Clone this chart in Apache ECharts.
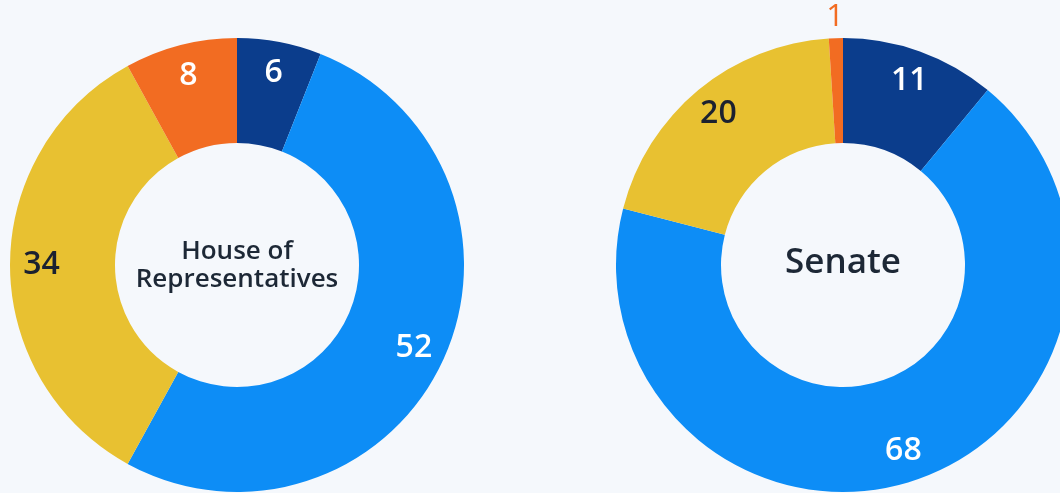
<!DOCTYPE html>
<html>
<head>
<meta charset="utf-8">
<script src="https://cdn.jsdelivr.net/npm/echarts@6/dist/echarts.min.js"></script>
<style>
html,body{margin:0;padding:0;background:#f5f8fc;}
#main{width:1060px;height:493px;}
</style>
</head>
<body>
<div id="main"></div>
<script>
// Parties (clockwise from 12 o'clock)
const categories = ['Navy', 'Blue', 'Yellow', 'Orange'];
const houseValues = [6, 52, 34, 8];
const senateValues = [11, 68, 20, 1];
const chamberTitles = ['House of\nRepresentatives', 'Senate'];

const colors = ['#0b3d8c', '#0d8df6', '#e8c131', '#f26c22'];
const labelColors = ['#ffffff', '#ffffff', '#1b2130', '#ffffff'];

const FONT = '"Open Sans", "Noto Sans", sans-serif';
const SMALL = 2; // slices this small get their label outside the ring

function ringData(values) {
  return values.map((v, i) => ({
    name: categories[i],
    value: v,
    itemStyle: { color: colors[i] }
  }));
}

function labelData(values, outside) {
  return values.map((v, i) => {
    const small = v <= SMALL;
    return {
      name: categories[i],
      value: v,
      itemStyle: { color: 'rgba(0,0,0,0)' },
      label: {
        show: outside ? small : !small,
        color: outside ? colors[i] : labelColors[i]
      }
    };
  });
}

const centers = [[237, 265], [843, 265]];
const outerR = 227, innerR = 122, labelInnerR = 158;

function chamberSeries(values, idx) {
  const labelStyle = {
    position: 'inside',
    formatter: '{c}',
    fontFamily: FONT,
    fontSize: 32,
    fontWeight: 600
  };
  return [
    {
      type: 'pie',
      center: centers[idx],
      radius: [innerR, outerR],
      startAngle: 90,
      clockwise: true,
      silent: true,
      label: { show: false },
      labelLine: { show: false },
      data: ringData(values)
    },
    {
      type: 'pie',
      center: centers[idx],
      radius: [labelInnerR, outerR],
      startAngle: 90,
      clockwise: true,
      silent: true,
      z: 5,
      label: labelStyle,
      labelLine: { show: false },
      data: labelData(values, false)
    },
    {
      type: 'pie',
      center: centers[idx],
      radius: [232, 258],
      startAngle: 90,
      clockwise: true,
      silent: true,
      z: 5,
      label: Object.assign({}, labelStyle, { fontWeight: 500, fontSize: 31 }),
      labelLine: { show: false },
      data: labelData(values, true)
    }
  ];
}

const chart = echarts.init(document.getElementById('main'));
chart.setOption({
  backgroundColor: '#f5f8fc',
  animation: false,
  series: [].concat(chamberSeries(houseValues, 0), chamberSeries(senateValues, 1)),
  graphic: [
    {
      type: 'text',
      x: centers[0][0], y: centers[0][1] + 1,
      style: {
        text: chamberTitles[0],
        align: 'center', verticalAlign: 'middle',
        textAlign: 'center', textVerticalAlign: 'middle',
        font: '600 26px ' + FONT,
        lineHeight: 28,
        fill: '#1d2836'
      }
    },
    {
      type: 'text',
      x: centers[1][0], y: centers[1][1] - 2,
      style: {
        text: chamberTitles[1],
        align: 'center', verticalAlign: 'middle',
        textAlign: 'center', textVerticalAlign: 'middle',
        font: '600 35px ' + FONT,
        fill: '#1d2836'
      }
    }
  ]
});
</script>
</body>
</html>
